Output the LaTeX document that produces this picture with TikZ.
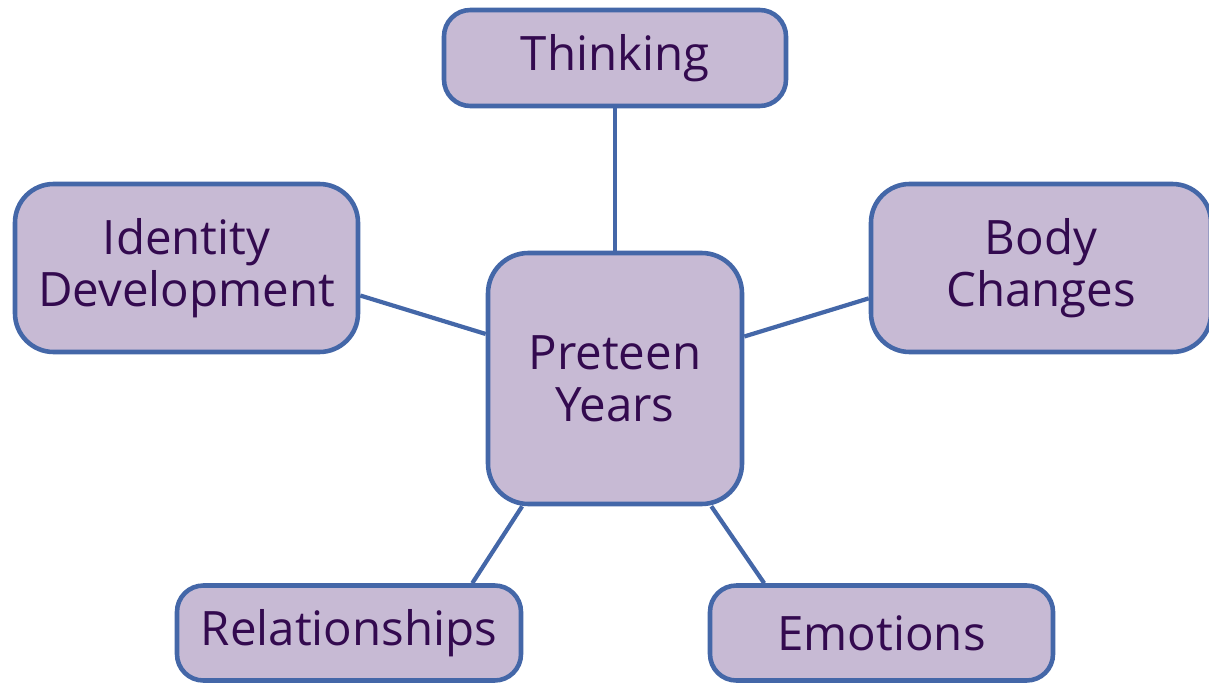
\documentclass[tikz,border=0pt]{standalone}
\usepackage{fontspec}
\setmainfont{Open Sans}
\definecolor{boxfill}{HTML}{C7BAD4}
\definecolor{boxline}{HTML}{4467A8}
\definecolor{boxtext}{HTML}{330A4F}
\begin{document}
\begin{tikzpicture}[x=0.02cm,y=-0.02cm,
  topic/.style={draw=boxline, fill=boxfill, line width=2.6pt, rounded corners=15pt,
    inner sep=0pt, align=center, text=boxtext,
    font=\fontsize{27}{29.5}\selectfont},
  link/.style={draw=boxline, line width=2.4pt}]
\useasboundingbox (0,0) rectangle (1209,686);
\node[topic, minimum width=342*0.02cm, minimum height=96*0.02cm] (think) at (615,58) {Thinking};
\node[topic, rounded corners=22pt, minimum width=343*0.02cm, minimum height=168*0.02cm] (ident) at (186.5,268) {Identity\\Development};
\node[topic, rounded corners=22pt, minimum width=340*0.02cm, minimum height=168*0.02cm] (body) at (1041,268) {Body\\Changes};
\node[topic, rounded corners=23pt, minimum width=254*0.02cm, minimum height=251*0.02cm] (pre) at (615,378.5) {Preteen\\Years};
\node[topic, minimum width=344*0.02cm, minimum height=95*0.02cm] (rel) at (349,633) {Relationships};
\node[topic, minimum width=343*0.02cm, minimum height=95*0.02cm] (emo) at (881.5,633) {Emotions};
\draw[link] (think.south) -- (pre.north);
\draw[link] (ident.-9.2) -- (pre.161.8);
\draw[link] (body.-170.6) -- (pre.18.2);
\draw[link] (rel.22.7) -- (pre.-126.4);
\draw[link] (emo.157.5) -- (pre.-53.9);
\end{tikzpicture}
\end{document}
